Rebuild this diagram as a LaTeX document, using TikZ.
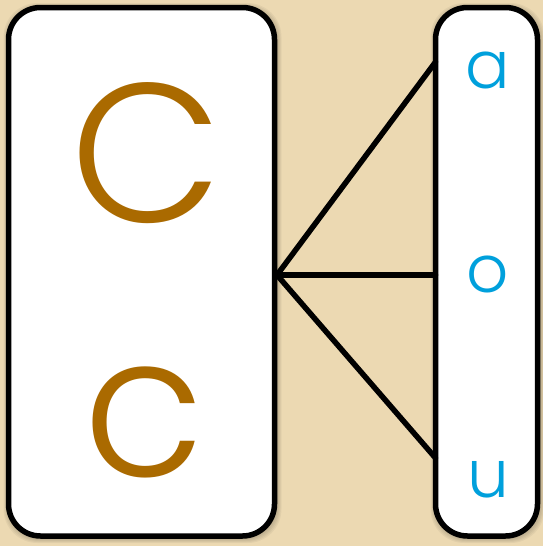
\documentclass[tikz,border=0pt]{standalone}
\usepackage{fontspec}
\setmainfont{Poppins}[UprightFont = * Light]
\definecolor{parch}{RGB}{236,217,178}
\definecolor{letterbrown}{RGB}{170,106,0}
\definecolor{letterblue}{RGB}{0,160,220}
\tikzset{
  panel/.style={draw=black, line width=5.5pt, fill=white, rounded corners=32pt, inner sep=0pt},
  shade/.style={fill=black, fill opacity=0.045, draw=none, rounded corners=34pt, inner sep=0pt},
  link/.style={draw=black, line width=5.5pt, line cap=round},
  bigletter/.style={text=letterbrown, inner sep=0pt, anchor=base, font=\fontsize{198}{198}\selectfont},
  smallletter/.style={text=letterblue, inner sep=0pt, anchor=base, font=\fontsize{66}{66}\selectfont},
}
\begin{document}
\begin{tikzpicture}[x=1pt,y=-1pt]
  \useasboundingbox (0,0) rectangle (543,546);
  \fill[parch] (0,0) rectangle (543,546);
  % soft shadows
  \foreach \k in {1,...,6} {
    \node[shade, minimum width={266pt+2*\k pt}, minimum height={528pt+2*\k pt}] at (142.5,273) {};
    \node[shade, minimum width={102pt+2*\k pt}, minimum height={528pt+2*\k pt}] at (487.5,273) {};
  }
  % panels
  \node[panel, minimum width=266pt, minimum height=528.5pt] (L) at (141.5,271.75) {};
  \node[panel, minimum width=102pt, minimum height=528.5pt] (R) at (486.5,271.75) {};
  % connector ends
  \coordinate (hub) at (277,275);
  \coordinate (ta) at (435.5,62);
  \coordinate (to) at (435.5,275);
  \coordinate (tu) at (435.5,458);
  \draw[link] (hub) -- (ta);
  \draw[link] (hub) -- (to);
  \draw[link] (hub) -- (tu);
  % letters
  \node[bigletter] (C) at (146.5,222) {C};
  \node[bigletter] (c) at (144.5,476) {c};
  \node[smallletter] (a) at (488,88) {a};
  \node[smallletter] (o) at (488,292) {o};
  \node[smallletter] (u) at (488,497) {u};
\end{tikzpicture}
\end{document}
